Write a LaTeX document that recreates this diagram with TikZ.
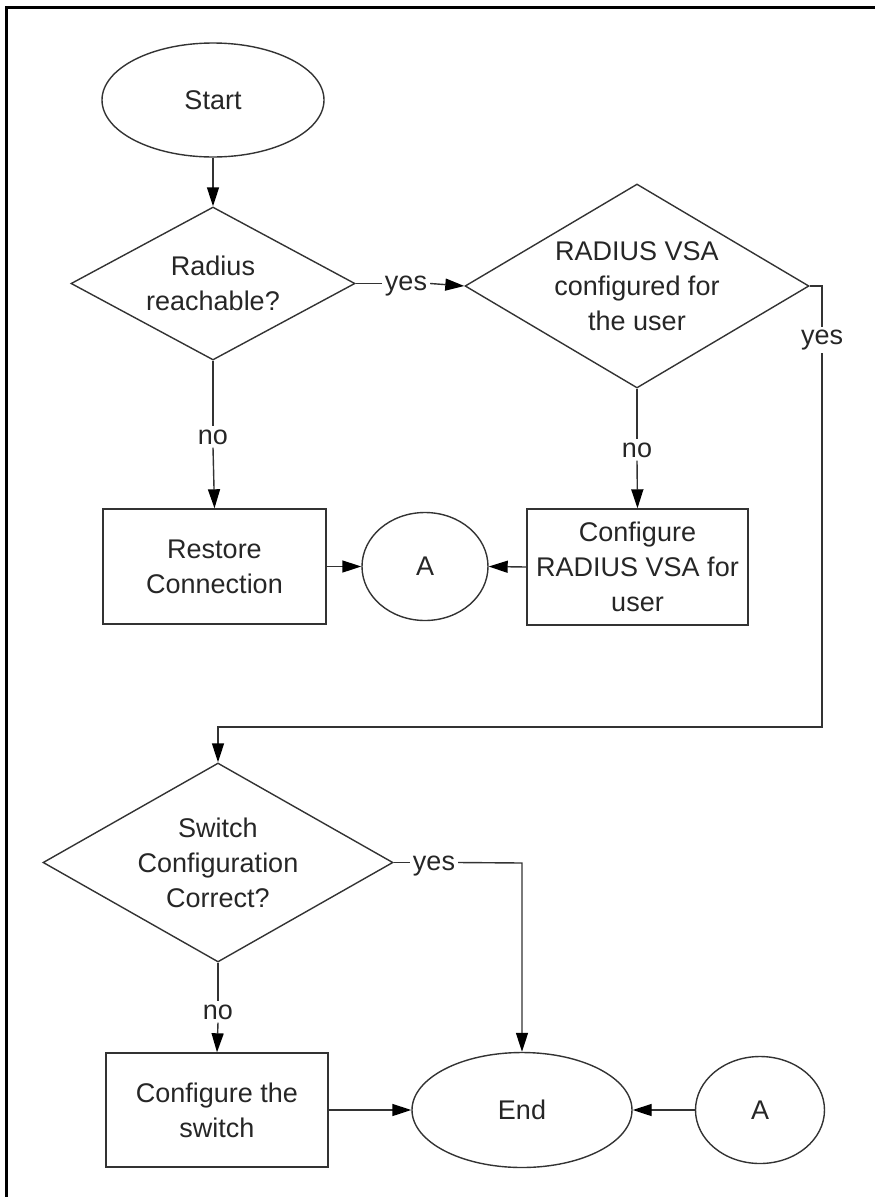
\documentclass[tikz,border=0pt]{standalone}
\usepackage{fontspec}
\setmainfont{Liberation Sans}
\usetikzlibrary{shapes.geometric,arrows.meta}
\begin{document}
\begin{tikzpicture}[x=1pt,y=1pt,
  every node/.style={font=\fontsize{27}{35}\selectfont, text=black!85},
  ln/.style={draw=black!80, line width=1.4pt},
  arr/.style={ln, -{Triangle[length=19pt,width=12pt,fill=black,color=black]}},
  term/.style={ellipse, ln, inner sep=0pt},
  dec/.style={diamond, ln, inner sep=0pt, align=center},
  proc/.style={rectangle, ln, inner sep=0pt, align=center},
  lbl/.style={inner sep=3pt}
]
\useasboundingbox (0,0) rectangle (875,-1197);
\draw[line width=3pt] (6.5,-1197) -- (6.5,-7.5) -- (875,-7.5);

\node[term, minimum width=222pt, minimum height=114pt] (start) at (213,-100) {Start};
\node[dec, aspect=1.86, minimum width=284pt, minimum height=153pt] (d1) at (213,-283.5) {Radius\\reachable?};
\node[dec, aspect=1.69, minimum width=344pt, minimum height=204pt] (d2) at (637,-286) {RADIUS VSA\\configured for\\the user};
\node[proc, minimum width=223pt, minimum height=115pt] (restore) at (214.5,-566.5) {Restore\\Connection};
\node[term, minimum width=126pt, minimum height=108pt] (a1) at (425,-566.5) {A};
\node[proc, minimum width=221pt, minimum height=116pt] (cfg) at (637.5,-567) {Configure\\RADIUS VSA for\\user};
\node[dec, aspect=1.76, minimum width=350pt, minimum height=199pt] (d3) at (218,-862.5) {Switch\\Configuration\\Correct?};
\node[proc, minimum width=222pt, minimum height=114pt] (cfgsw) at (217,-1110) {Configure the\\switch};
\node[term, minimum width=220pt, minimum height=115pt] (end) at (522,-1110) {End};
\node[term, minimum width=129pt, minimum height=107pt] (a2) at (760,-1110) {A};

% labels
\node[lbl] (yes1) at (406,-286) {yes};
\node[lbl] (no1) at (213,-437) {no};
\node[lbl] (no2) at (637,-450) {no};
\node[lbl] (yes2) at (822,-340) {yes};
\node[lbl] (yes3) at (434,-866) {yes};
\node[lbl] (no3) at (218,-1012) {no};
\coordinate (c1) at (822,-286);
\coordinate (c2) at (822,-727);
\coordinate (c3) at (218,-727);
\coordinate (c4) at (522,-863);

% connectors
\draw[arr] (start.south) -- (d1.north);
\draw[ln] (d1.east) -- (d1.east -| yes1.west);
\draw[arr] (d1.east -| yes1.east) -- (d2.west);
\draw[ln] (d1.south) -- (no1.north);
\draw[arr] (no1.south) -- (restore.north);
\draw[ln] (d2.south) -- (no2.north);
\draw[arr] (no2.south) -- (cfg.north);
\draw[ln] (d2.east) -- (c1) -- (yes2.north);
\draw[arr] (yes2.south) -- (c2) -- (c3) -- (d3.north);
\draw[arr] (restore.east) -- (a1.west);
\draw[arr] (cfg.west) -- (a1.east);
\draw[ln] (d3.east) -- (d3.east -| yes3.west);
\draw[arr] (d3.east -| yes3.east) -- (c4) -- (end.north);
\draw[ln] (d3.south) -- (no3.north);
\draw[arr] (no3.south) -- (cfgsw.north);
\draw[arr] (cfgsw.east) -- (end.west);
\draw[arr] (a2.west) -- (end.east);
\end{tikzpicture}
\end{document}
